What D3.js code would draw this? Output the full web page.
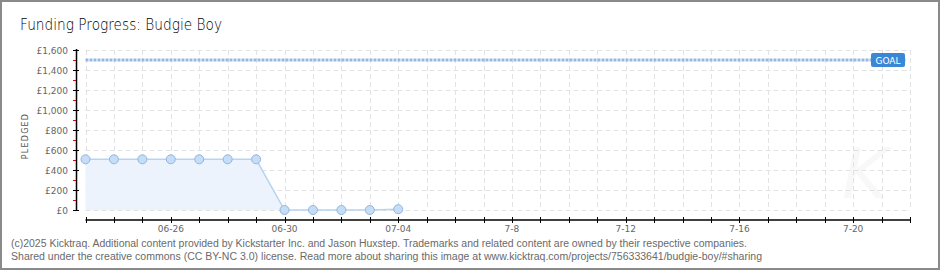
<!DOCTYPE html>
<html>
<head>
<meta charset="utf-8">
<script src="https://cdn.jsdelivr.net/npm/d3@7"></script>
<style>
  html, body { margin: 0; padding: 0; background: #fff; }
  svg { display: block; }
</style>
</head>
<body>
<div id="graphic"></div>
<script>
'use strict';

const title = `Funding Progress: Budgie Boy`;
const dates = [
  `2025-06-23`, `2025-06-24`, `2025-06-25`, `2025-06-26`, `2025-06-27`, `2025-06-28`,
  `2025-06-29`, `2025-06-30`, `2025-07-01`, `2025-07-02`, `2025-07-03`, `2025-07-04`
];
const pledged = [507, 507, 507, 507, 507, 507, 507, 0, 0, 0, 0, 8];
const goal = 1500;
const domainDates = [`2025-06-23`, `2025-07-22`];
const tickLabelDates = [`2025-06-26`, `2025-06-30`, `2025-07-04`, `2025-07-08`, `2025-07-12`, `2025-07-16`, `2025-07-20`];
const tickLabels = [`06-26`, `06-30`, `07-04`, `7-8`, `7-12`, `7-16`, `7-20`];
const yTicks = [0, 200, 400, 600, 800, 1000, 1200, 1400, 1600];
const footer = [
  `(c)2025 Kicktraq. Additional content provided by Kickstarter Inc. and Jason Huxstep. Trademarks and related content are owned by their respective companies.`,
  `Shared under the creative commons (CC BY-NC 3.0) license. Read more about sharing this image at www.kicktraq.com/projects/756333641/budgie-boy/#sharing`
];

(function (d3) {
  const width = 940;
  const height = 270;
  const parse = d3.timeParse(`%Y-%m-%d`);

  const data = dates.map((d, i) => ({ date: parse(d), value: pledged[i] }));

  const x = d3.scaleTime().domain(domainDates.map(parse)).range([85.5, 910]);
  const y = d3.scaleLinear().domain([0, 1600]).range([210, 50]);

  const svg = d3
    .select(`div#graphic`)
    .append(`svg`)
    .attr(`width`, width)
    .attr(`height`, height)
    .attr(`font-family`, `'DejaVu Sans', sans-serif`);

  // Frame
  svg
    .append(`rect`)
    .attr(`x`, 1)
    .attr(`y`, 1)
    .attr(`width`, width - 2)
    .attr(`height`, height - 2)
    .attr(`fill`, `#fff`)
    .attr(`stroke`, `#8a8a8a`)
    .attr(`stroke-width`, 2);

  // Title
  svg
    .append(`text`)
    .attr(`x`, 20)
    .attr(`y`, 30)
    .attr(`font-size`, 16)
    .attr(`font-weight`, 200)
    .attr(`fill`, `#000`)
    .attr(`textLength`, 202)
    .attr(`lengthAdjust`, `spacingAndGlyphs`)
    .text(title);

  // Watermark
  svg
    .append(`text`)
    .attr(`x`, 842)
    .attr(`y`, 198)
    .attr(`font-size`, 70)
    .attr(`font-style`, `italic`)
    .attr(`font-weight`, 200)
    .attr(`fill`, `#f8f8f8`)
    .text(`K`);

  const allDays = d3.timeDay.range(x.domain()[0], d3.timeDay.offset(x.domain()[1], 1));

  // Grid
  const grid = svg.append(`g`).attr(`stroke`, `#e2e2e2`).attr(`stroke-dasharray`, `5,3`);
  grid
    .selectAll(`line.v`)
    .data(allDays)
    .join(`line`)
    .attr(`class`, `v`)
    .attr(`x1`, (d) => Math.round(x(d)) + 0.5)
    .attr(`x2`, (d) => Math.round(x(d)) + 0.5)
    .attr(`y1`, y(1600))
    .attr(`y2`, y(0));
  grid
    .selectAll(`line.h`)
    .data(yTicks)
    .join(`line`)
    .attr(`class`, `h`)
    .attr(`x1`, x.range()[0])
    .attr(`x2`, x.range()[1])
    .attr(`y1`, (d) => y(d) + 0.5)
    .attr(`y2`, (d) => y(d) + 0.5);

  // Goal line
  svg
    .append(`line`)
    .attr(`x1`, x.range()[0])
    .attr(`x2`, 906)
    .attr(`y1`, y(goal))
    .attr(`y2`, y(goal))
    .attr(`stroke`, `#93b8e2`)
    .attr(`stroke-width`, 3)
    .attr(`stroke-dasharray`, `3,1`);
  const goalG = svg.append(`g`).attr(`transform`, `translate(871,${y(goal) - 7})`);
  goalG.append(`rect`).attr(`width`, 34).attr(`height`, 14).attr(`rx`, 2).attr(`fill`, `#3a87d6`);
  goalG
    .append(`text`)
    .attr(`x`, 17)
    .attr(`y`, 10.5)
    .attr(`text-anchor`, `middle`)
    .attr(`font-size`, 9)
    .attr(`fill`, `#fff`)
    .text(`GOAL`);

  // Area + line
  const area = d3
    .area()
    .x((d) => x(d.date))
    .y0(y(0))
    .y1((d) => y(d.value));
  const line = d3
    .line()
    .x((d) => x(d.date))
    .y((d) => y(d.value));

  svg.append(`path`).datum(data).attr(`fill`, `#ecf3fc`).attr(`d`, area);
  svg
    .append(`path`)
    .datum(data)
    .attr(`fill`, `none`)
    .attr(`stroke`, `#b7d3f1`)
    .attr(`stroke-width`, 1.5)
    .attr(`d`, line);
  svg
    .append(`g`)
    .selectAll(`circle`)
    .data(data)
    .join(`circle`)
    .attr(`cx`, (d) => x(d.date))
    .attr(`cy`, (d) => y(d.value))
    .attr(`r`, 4.5)
    .attr(`fill`, `#c5ddf7`)
    .attr(`stroke`, `#94b6dd`)
    .attr(`stroke-width`, 1);

  // Y axis
  const yAxisG = svg.append(`g`);
  yAxisG
    .append(`line`)
    .attr(`x1`, 76.5)
    .attr(`x2`, 76.5)
    .attr(`y1`, y(1600) - 1)
    .attr(`y2`, y(0) + 1)
    .attr(`stroke`, `#000`)
    .attr(`stroke-width`, 1.5);
  yAxisG
    .selectAll(`line.minor`)
    .data(d3.range(100, 1600, 200))
    .join(`line`)
    .attr(`class`, `minor`)
    .attr(`x1`, 73)
    .attr(`x2`, 76)
    .attr(`y1`, (d) => y(d) + 0.5)
    .attr(`y2`, (d) => y(d) + 0.5)
    .attr(`stroke`, `#e00000`);
  yAxisG
    .selectAll(`line.major`)
    .data(yTicks)
    .join(`line`)
    .attr(`class`, `major`)
    .attr(`x1`, 73)
    .attr(`x2`, 79)
    .attr(`y1`, (d) => y(d) + 0.5)
    .attr(`y2`, (d) => y(d) + 0.5)
    .attr(`stroke`, `#000`);
  yAxisG
    .selectAll(`text`)
    .data(yTicks)
    .join(`text`)
    .attr(`x`, 68)
    .attr(`y`, (d) => y(d) + 3.5)
    .attr(`text-anchor`, `end`)
    .attr(`font-size`, 9)
    .attr(`fill`, `#666`)
    .text((d) => `£` + d3.format(`,`)(d));

  svg
    .append(`text`)
    .attr(`transform`, `translate(28,136) rotate(-90)`)
    .attr(`text-anchor`, `middle`)
    .attr(`font-size`, 8)
    .attr(`letter-spacing`, 1.2)
    .attr(`fill`, `#555`)
    .text(`PLEDGED`);

  // X axis
  const xAxisG = svg.append(`g`);
  xAxisG
    .append(`line`)
    .attr(`x1`, x.range()[0])
    .attr(`x2`, x.range()[1] + 1)
    .attr(`y1`, 220)
    .attr(`y2`, 220)
    .attr(`stroke`, `#000`)
    .attr(`stroke-width`, 1.5);
  xAxisG
    .selectAll(`line.tick`)
    .data(allDays)
    .join(`line`)
    .attr(`class`, `tick`)
    .attr(`x1`, (d) => Math.round(x(d)) + 0.5)
    .attr(`x2`, (d) => Math.round(x(d)) + 0.5)
    .attr(`y1`, 217)
    .attr(`y2`, 223)
    .attr(`stroke`, `#000`);
  xAxisG
    .selectAll(`text`)
    .data(tickLabelDates.map(parse))
    .join(`text`)
    .attr(`x`, (d) => x(d))
    .attr(`y`, 232)
    .attr(`text-anchor`, `middle`)
    .attr(`font-size`, 9)
    .attr(`fill`, `#666`)
    .text((d, i) => tickLabels[i]);

  // Footer
  svg
    .append(`g`)
    .attr(`font-family`, `'Liberation Sans', sans-serif`)
    .attr(`font-size`, 10)
    .attr(`fill`, `#6a6a6a`)
    .selectAll(`text`)
    .data(footer)
    .join(`text`)
    .attr(`x`, 11)
    .attr(`y`, (d, i) => 247 + i * 12.5)
    .attr(`textLength`, (d, i) => (i === 0 ? 736 : 751))
    .attr(`lengthAdjust`, `spacingAndGlyphs`)
    .text((d) => d);
})(d3);
</script>
</body>
</html>
